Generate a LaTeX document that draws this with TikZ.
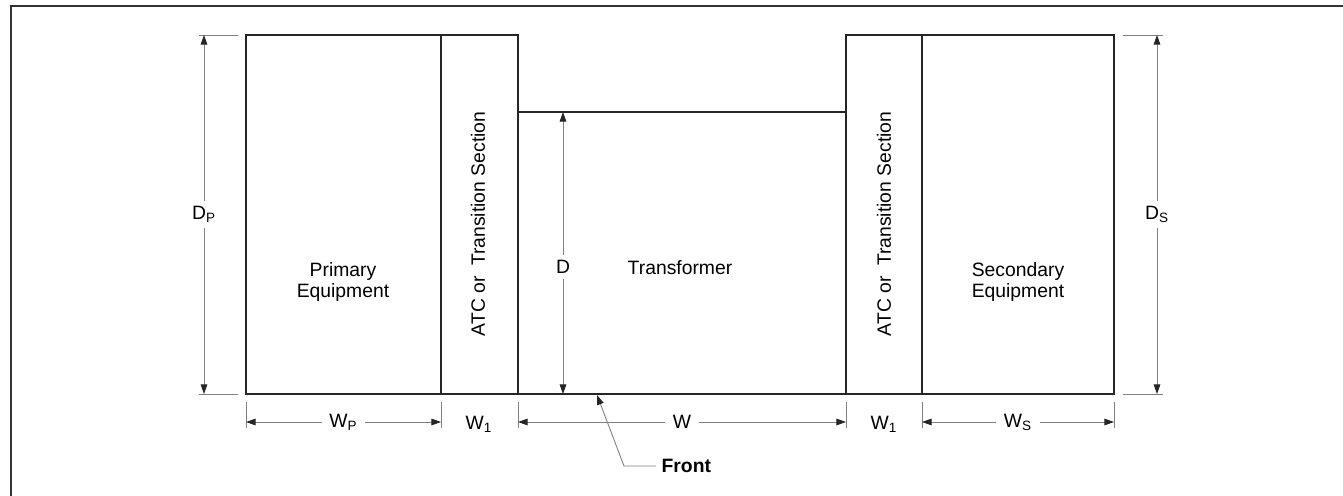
\documentclass[tikz,border=0pt]{standalone}
\usepackage{fontspec}
\setmainfont{Liberation Sans}
\usetikzlibrary{arrows.meta,positioning}

\begin{document}
\begin{tikzpicture}[x=0.02cm,y=-0.02cm,
box/.style={draw=black!85,line width=0.85pt,outer sep=0pt,inner sep=0pt},
dim/.style={draw=black!50,line width=0.5pt},
arr/.style={dim,{Triangle[length=5.5pt,width=3.8pt,color=black!85]}-{Triangle[length=5.5pt,width=3.8pt,color=black!85]}},
lbl/.style={font=\fontsize{11}{11.6}\selectfont,align=center,inner sep=0pt},
cut/.style={lbl,fill=white,inner xsep=4.5pt,inner ysep=3pt}]
\useasboundingbox (0,0) rectangle (1343,496);
\draw[line width=1.1pt,black!80] (1343,6) -- (11,6) -- (11,496);
% blocks
\node[box,minimum width=3.9cm,minimum height=7.18cm,anchor=north west] (prim) at (246,35) {};
\node[box,minimum width=1.54cm,minimum height=7.18cm,right=0pt of prim] (atca) {};
\node[box,minimum width=6.56cm,minimum height=5.64cm,anchor=south west] (trafo) at (atca.south east) {};
\node[box,minimum width=1.52cm,minimum height=7.18cm,anchor=south west] (atcb) at (trafo.south east) {};
\node[box,minimum width=3.84cm,minimum height=7.18cm,right=0pt of atcb] (sec) {};
\node[lbl] (primtxt) at (343,282) {Primary\\Equipment};
\node[lbl,rotate=90] (atcatxt) at (478,224) {ATC or~~Transition Section};
\node[lbl] (trafotxt) at (680,268) {Transformer};
\node[lbl,rotate=90] (atcbtxt) at (884,224) {ATC or~~Transition Section};
\node[lbl] (sectxt) at (1018,282) {Secondary\\Equipment};
% depths
\draw[dim] (199,35) -- (238,35) (199,394) -- (238,394);
\draw[dim] (1123,35) -- (1163,35) (1123,394) -- (1163,394);
\coordinate (dpt) at (204,35); \coordinate (dpb) at (204,394);
\coordinate (dst) at (1157,35); \coordinate (dsb) at (1157,394);
\coordinate (dt) at (563,112); \coordinate (db) at (563,394);
\draw[arr] (dpt) -- (dpb) node[cut,midway] (dp) {D\textsubscript{P}};
\draw[arr] (dst) -- (dsb) node[cut,midway] (ds) {D\textsubscript{S}};
\draw[arr] (dt) -- (db) node[cut,pos=0.55] (d) {D};
% widths
\foreach \x in {246,441,518,846,922,1114}
  \draw[dim] (\x,402) -- (\x,428);
\draw[arr] (246,422) -- (441,422) node[cut,midway] (wp) {W\textsubscript{P}};
\draw[arr] (518,422) -- (846,422) node[cut,midway] (w) {W};
\draw[arr] (922,422) -- (1114,422) node[cut,midway] (ws) {W\textsubscript{S}};
\node[lbl] (wa) at (479,424) {W\textsubscript{1}};
\node[lbl] (wb) at (884,424) {W\textsubscript{1}};
% front
\coordinate (ftip) at (597,395);
\coordinate (fbend) at (624,466);
\node[lbl,font=\fontsize{11}{12}\selectfont\bfseries,anchor=west,inner sep=3pt] (front) at (656,466) {Front};
\draw[dim,-{Triangle[length=5.5pt,width=3.8pt,color=black!85]}] (front.west) -- (fbend) -- (ftip);
\end{tikzpicture}
\end{document}
